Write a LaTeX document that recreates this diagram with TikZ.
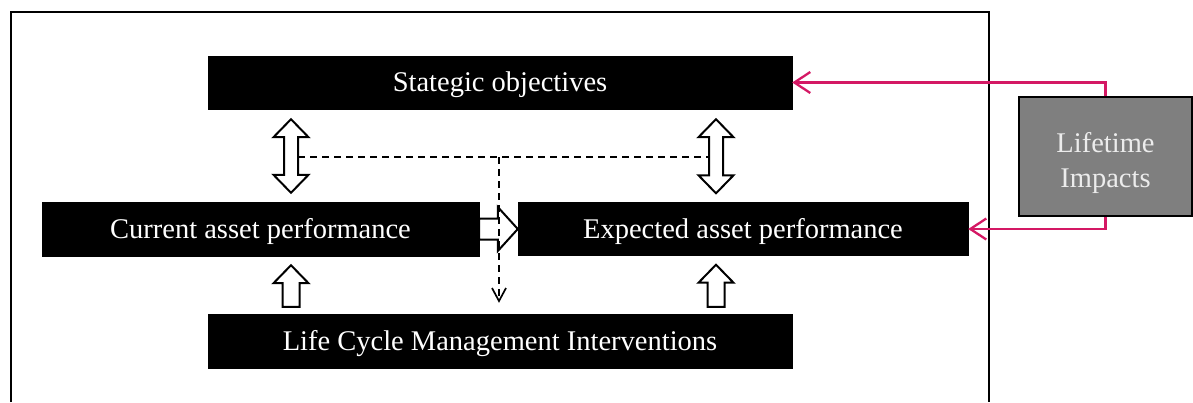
\documentclass[tikz,border=0pt]{standalone}
\usepackage{fontspec}
\setmainfont{Liberation Serif}
\usetikzlibrary{calc,arrows.meta}

\definecolor{impactpink}{RGB}{212,24,100}
\definecolor{impactgray}{RGB}{127,127,127}
\definecolor{impacttext}{RGB}{236,236,236}

% lower a text line without changing its box
\newcommand\lowered[2]{\raisebox{-#1}[\height][\depth]{#2}}

% hollow single block arrow: #1 start, #2 tip, #3 shaft half width, #4 head half width, #5 head length
\newcommand\blockarrow[5]{%
  \coordinate (bas) at #1;
  \coordinate (bat) at #2;
  \coordinate (bab) at ($(bat)!#5!(bas)$);
  \draw[hollow] ($(bas)!#3!90:(bat)$) -- ($(bab)!#3!90:(bat)$) -- ($(bab)!#4!90:(bat)$)
    -- (bat) -- ($(bab)!#4!-90:(bat)$) -- ($(bab)!#3!-90:(bat)$) -- ($(bas)!#3!-90:(bat)$) -- cycle;
}
% hollow double block arrow between two tips
\newcommand\doubleblockarrow[5]{%
  \coordinate (dat) at #1;
  \coordinate (dau) at #2;
  \coordinate (dab) at ($(dat)!#5!(dau)$);
  \coordinate (dac) at ($(dau)!#5!(dat)$);
  \draw[hollow] (dat) -- ($(dab)!#4!90:(dau)$) -- ($(dab)!#3!90:(dau)$) -- ($(dac)!#3!90:(dau)$)
    -- ($(dac)!#4!90:(dau)$) -- (dau) -- ($(dac)!#4!-90:(dau)$) -- ($(dac)!#3!-90:(dau)$)
    -- ($(dab)!#3!-90:(dau)$) -- ($(dab)!#4!-90:(dau)$) -- cycle;
}

\tikzset{
  blackbox/.style={rectangle, fill=black, draw=black, text=white, inner sep=0pt,
    font=\fontsize{28.5pt}{34pt}\selectfont},
  impactbox/.style={rectangle, fill=impactgray, draw=black, line width=1.5pt, text=impacttext,
    inner sep=0pt, align=center, font=\fontsize{28.5pt}{35pt}\selectfont},
  hollow/.style={draw=black, fill=white, line width=2pt, line join=miter},
  dashlink/.style={draw=black, line width=1.7pt, dash pattern=on 7pt off 5pt},
  pinklink/.style={draw=impactpink, line width=2.3pt, -{Straight Barb[length=16pt,width=21pt,line width=2.3pt]}},
  frame/.style={draw=black, line width=2.2pt},
}

\begin{document}
\begin{tikzpicture}[x=1pt, y=-1pt]
  \useasboundingbox (0,0) rectangle (1193,402);

  % surrounding frame, open at the bottom edge of the picture
  \draw[frame] (11,402) -- (11,12) -- (989,12) -- (989,402);

  % main boxes
  \node[blackbox, minimum width=584pt, minimum height=53pt] (strat) at (500,82.5) {\lowered{2.5pt}{Stategic objectives}};
  \node[blackbox, minimum width=437pt, minimum height=54pt] (cur) at (260.5,229) {\lowered{2.5pt}{Current asset performance}};
  \node[blackbox, minimum width=450pt, minimum height=53pt] (exp) at (743,229) {\lowered{2.5pt}{Expected asset performance}};
  \node[blackbox, minimum width=584pt, minimum height=54pt] (lcm) at (500,341) {\lowered{2.5pt}{Life Cycle Management Interventions}};
  \node[impactbox, minimum width=173pt, minimum height=119pt] (life) at (1105.5,156.5)
    {\lowered{6pt}{Lifetime}\\\lowered{6pt}{Impacts}};

  % columns of the vertical block arrows
  \coordinate (lx) at (291,0);
  \coordinate (rx) at (716,0);

  % double arrows between objectives and performances
  \doubleblockarrow{($(strat.south -| lx)+(0,10)$)}{($(cur.north -| lx)+(0,-9)$)}{7pt}{17.5pt}{18pt}
  \doubleblockarrow{($(strat.south -| rx)+(0,10)$)}{($(exp.north -| rx)+(0,-9)$)}{7pt}{17.5pt}{18pt}

  % interventions feeding both performances
  \blockarrow{($(lcm.north -| lx)+(0,-7)$)}{($(cur.south -| lx)+(0,9)$)}{8.5pt}{17.5pt}{18pt}
  \blockarrow{($(lcm.north -| rx)+(0,-7)$)}{($(exp.south -| rx)+(0,9)$)}{8.5pt}{17.5pt}{18pt}

  % current to expected performance
  \blockarrow{(cur.east)}{(cur.east -| exp.west)}{10.5pt}{22pt}{20pt}

  % dashed feedback towards the interventions
  \coordinate (dj) at (499,157);
  \draw[dashlink] ($(lx |- dj)+(7,0)$) -- ($(rx |- dj)+(-7,0)$);
  \draw[dashlink, -{Straight Barb[length=13pt,width=14pt,line width=1.7pt]}]
    (dj) -- ($(lcm.north -| dj)+(0,-11)$);

  % lifetime impacts
  \draw[pinklink] (life.north) |- (strat.east);
  \draw[pinklink] (life.south) |- (exp.east);
\end{tikzpicture}
\end{document}
